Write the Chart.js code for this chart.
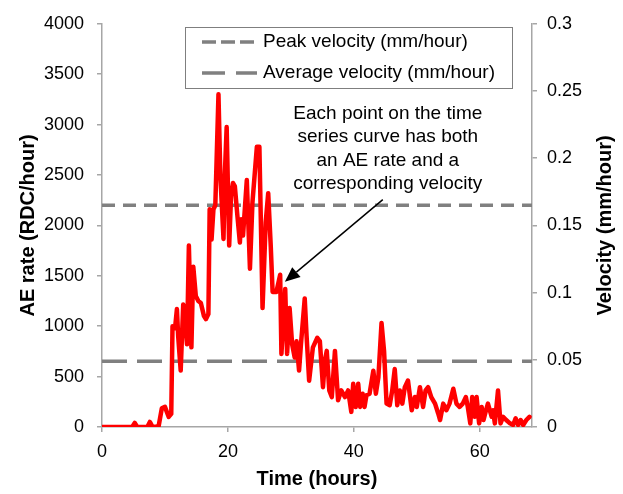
<!DOCTYPE html>
<html>
<head>
<meta charset="utf-8">
<script src="https://cdn.jsdelivr.net/npm/chart.js@4"></script>
<style>
  html, body { margin: 0; padding: 0; background: #fff; }
  canvas { display: block; }
</style>
</head>
<body>
<canvas id="aeChart" width="623" height="494"></canvas>
<script>
// time (hours) and AE rate (RDC/hour)
const times = [
  0, 1, 2, 3, 4, 4.8, 5.2, 5.6, 6.5, 7.2, 7.6, 8.0, 8.5, 9.0, 9.5, 10.0, 10.6, 11.0,
  11.2, 11.6, 11.9, 12.1, 12.5, 12.9, 13.1, 13.5, 13.8, 14.2, 14.5, 14.9, 15.3, 15.7,
  16.2, 16.5, 16.9, 17.1, 17.4, 17.7, 18.0, 18.5, 18.8, 19.3, 19.5, 19.8, 20.2, 20.5,
  20.8, 21.1, 21.5, 21.9, 22.1, 22.4, 23.0, 23.5, 23.9, 24.6, 25.0, 25.5, 26.0, 26.4,
  26.8, 27.1, 27.7, 28.3, 28.5, 28.8, 29.1, 29.4, 29.8, 30.2, 30.6, 30.9, 31.3, 31.6,
  32.2, 32.5, 32.9, 33.5, 34.2, 34.6, 35.1, 35.4, 35.7, 36.1, 36.5, 37.0, 37.5, 38.0,
  38.6, 39.1, 39.6, 39.9, 40.3, 40.7, 41.0, 41.4, 41.7, 42.0, 42.5, 43.1, 43.5, 43.9,
  44.4, 44.8, 45.2, 45.7, 46.1, 46.5, 46.9, 47.3, 47.7, 48.1, 48.6, 49.2, 49.7, 50.0,
  50.5, 51.0, 51.4, 51.8, 52.3, 52.9, 53.4, 53.7, 54.2, 54.7, 55.2, 55.8, 56.3, 56.8,
  57.3, 57.8, 58.1, 58.5, 58.8, 59.2, 59.5, 59.9, 60.3, 60.6, 61.0, 61.3, 61.9, 62.1,
  62.4, 62.9, 63.3, 63.7, 64.2, 64.8, 65.3, 65.7, 66.1, 66.5, 66.9, 67.4, 67.9
];
const aeRate = [
  0, 0, 0, 0, 0, 0, 40, 0, 0, 0, 50, 5, 0, 10, 185, 200, 100, 130,
  1000, 980, 1170, 900, 560, 1215, 1150, 820, 1800, 790, 1590, 1300, 1250, 1230,
  1100, 1070, 1120, 2160, 1860, 2160, 2200, 3300, 2490, 1865, 2490, 2975, 1800, 2290,
  2420, 2390, 2100, 1830, 2060, 1900, 2450, 1570, 2230, 2780, 2780, 1180, 2030, 2320,
  1800, 1340, 1340, 1510, 725, 1060, 1370, 725, 1180, 820, 690, 850, 560, 820,
  1275, 900, 460, 790, 885, 853, 395, 657, 755, 363, 297, 755, 265, 363,
  297, 363, 150, 428, 199, 428, 199, 330, 199, 314, 330, 559, 330, 493,
  1032, 755, 232, 216, 363, 575, 216, 363, 232, 395, 461, 167, 297, 199,
  395, 199, 363, 395, 297, 232, 134, 69, 232, 167, 232, 380, 232, 199,
  232, 297, 199, 36, 297, 101, 297, 36, 199, 69, 167, 232, 101, 167,
  36, 363, 36, 101, 69, 36, 20, 85, 20, 69, 20, 69, 101
];

// reference velocities (mm/hour), right axis
const peakVelocity = 0.165;
const avgVelocity = 0.049;

const xMax = 68.3;
const noteLines = [
  'Each point on the time',
  'series curve has both',
  'an AE rate and a',
  'corresponding velocity'
];

const FONT = '"Liberation Sans", Arial, sans-serif';
const AXIS_GRAY = '#a6a6a6';
const DASH_GRAY = '#808080';

// legend, callout text, arrow and right-hand axis title
const overlayPlugin = {
    id: 'overlay',
    afterDraw(chart) {
        const ctx = chart.ctx;
        const xs = chart.scales.x;
        const ys = chart.scales.y;
        const area = chart.chartArea;

        ctx.save();

        // legend box
        const lx = 185, ly = 27, lw = 327, lh = 61;
        ctx.fillStyle = '#fff';
        ctx.fillRect(lx, ly, lw, lh);
        ctx.strokeStyle = '#7f7f7f';
        ctx.lineWidth = 1;
        ctx.strokeRect(lx + 0.5, ly + 0.5, lw, lh);

        const rows = [
            { text: 'Peak velocity (mm/hour)', dash: [14, 5], y: 42 },
            { text: 'Average velocity (mm/hour)', dash: [23, 11], y: 73 }
        ];
        ctx.font = '19px ' + FONT;
        ctx.textBaseline = 'middle';
        ctx.textAlign = 'left';
        rows.forEach(r => {
            ctx.strokeStyle = DASH_GRAY;
            ctx.lineWidth = 3.5;
            ctx.setLineDash(r.dash);
            ctx.beginPath();
            ctx.moveTo(202, r.y);
            ctx.lineTo(257, r.y);
            ctx.stroke();
            ctx.setLineDash([]);
            ctx.fillStyle = '#000';
            ctx.fillText(r.text, 263, r.y);
        });

        // callout text
        const cx = xs.getPixelForValue(45.4);
        const cy = ys.getPixelForValue(3110);
        ctx.textAlign = 'center';
        ctx.fillStyle = '#000';
        noteLines.forEach((line, i) => {
            ctx.fillText(line, cx, cy + i * 23.5);
        });

        // arrow pointing at the curve
        const tx = xs.getPixelForValue(44.6), ty = ys.getPixelForValue(2255);
        const hx = xs.getPixelForValue(29.05), hy = ys.getPixelForValue(1441);
        const ang = Math.atan2(hy - ty, hx - tx);
        const headLen = 15, headW = 6.5;
        const bx = hx - headLen * Math.cos(ang), by = hy - headLen * Math.sin(ang);
        ctx.strokeStyle = '#000';
        ctx.lineWidth = 1.5;
        ctx.beginPath();
        ctx.moveTo(tx, ty);
        ctx.lineTo(bx, by);
        ctx.stroke();
        ctx.beginPath();
        ctx.moveTo(hx, hy);
        ctx.lineTo(bx + headW * Math.sin(ang), by - headW * Math.cos(ang));
        ctx.lineTo(bx - headW * Math.sin(ang), by + headW * Math.cos(ang));
        ctx.closePath();
        ctx.fillStyle = '#000';
        ctx.fill();

        // right axis title, reading bottom to top
        ctx.translate(605, (area.top + area.bottom) / 2);
        ctx.rotate(-Math.PI / 2);
        ctx.font = 'bold 20px ' + FONT;
        ctx.textAlign = 'center';
        ctx.fillText('Velocity (mm/hour)', 0, 0);

        ctx.restore();
    }
};

const tickFont = { family: FONT, size: 18 };
const titleFont = { family: FONT, size: 20, weight: 'bold' };
const axisGrid = { display: true, drawOnChartArea: false, drawTicks: true, tickLength: 5, color: AXIS_GRAY, lineWidth: 1.5 };
const axisBorder = { display: true, color: AXIS_GRAY, width: 1.5 };

new Chart(document.getElementById('aeChart'), {
    type: 'line',
    data: {
        datasets: [
            {
                label: 'AE rate',
                data: times.map((t, i) => ({ x: t, y: aeRate[i] })),
                borderColor: '#ff0000',
                borderWidth: 4.5,
                borderJoinStyle: 'round',
                borderCapStyle: 'round',
                pointRadius: 0,
                tension: 0,
                yAxisID: 'y'
            },
            {
                label: 'Peak velocity (mm/hour)',
                data: [{ x: 0, y: peakVelocity }, { x: xMax, y: peakVelocity }],
                borderColor: DASH_GRAY,
                borderWidth: 3.5,
                borderDash: [13, 8],
                pointRadius: 0,
                yAxisID: 'y1'
            },
            {
                label: 'Average velocity (mm/hour)',
                data: [{ x: 0, y: avgVelocity }, { x: xMax, y: avgVelocity }],
                borderColor: DASH_GRAY,
                borderWidth: 3.5,
                borderDash: [25, 10],
                pointRadius: 0,
                yAxisID: 'y1'
            }
        ]
    },
    options: {
        responsive: false,
        animation: false,
        layout: { padding: { top: 19, left: 0, right: 0, bottom: 0 } },
        plugins: {
            legend: { display: false },
            tooltip: { enabled: false }
        },
        scales: {
            x: {
                type: 'linear',
                min: 0,
                max: xMax,
                grid: axisGrid,
                border: axisBorder,
                ticks: {
                    stepSize: 20,
                    includeBounds: false,
                    autoSkip: false,
                    maxRotation: 0,
                    color: '#000',
                    font: tickFont,
                    padding: 9
                },
                title: {
                    display: true,
                    text: 'Time (hours)',
                    color: '#000',
                    font: titleFont,
                    padding: { top: 0, bottom: 3 }
                },
                afterFit: s => { s.height = 67; }
            },
            y: {
                position: 'left',
                min: 0,
                max: 4000,
                grid: axisGrid,
                border: axisBorder,
                ticks: {
                    stepSize: 500,
                    color: '#000',
                    font: tickFont,
                    padding: 13,
                    callback: v => String(v)
                },
                title: {
                    display: true,
                    text: 'AE rate (RDC/hour)',
                    color: '#000',
                    font: titleFont,
                    padding: { top: 16, bottom: 0 }
                },
                afterFit: s => { s.width = 102; }
            },
            y1: {
                position: 'right',
                min: 0,
                max: 0.3,
                grid: axisGrid,
                border: axisBorder,
                ticks: {
                    stepSize: 0.05,
                    color: '#000',
                    font: tickFont,
                    padding: 10,
                    callback: v => String(+v.toFixed(2))
                },
                afterFit: s => { s.width = 91; }
            }
        }
    },
    plugins: [overlayPlugin]
});
</script>
</body>
</html>
